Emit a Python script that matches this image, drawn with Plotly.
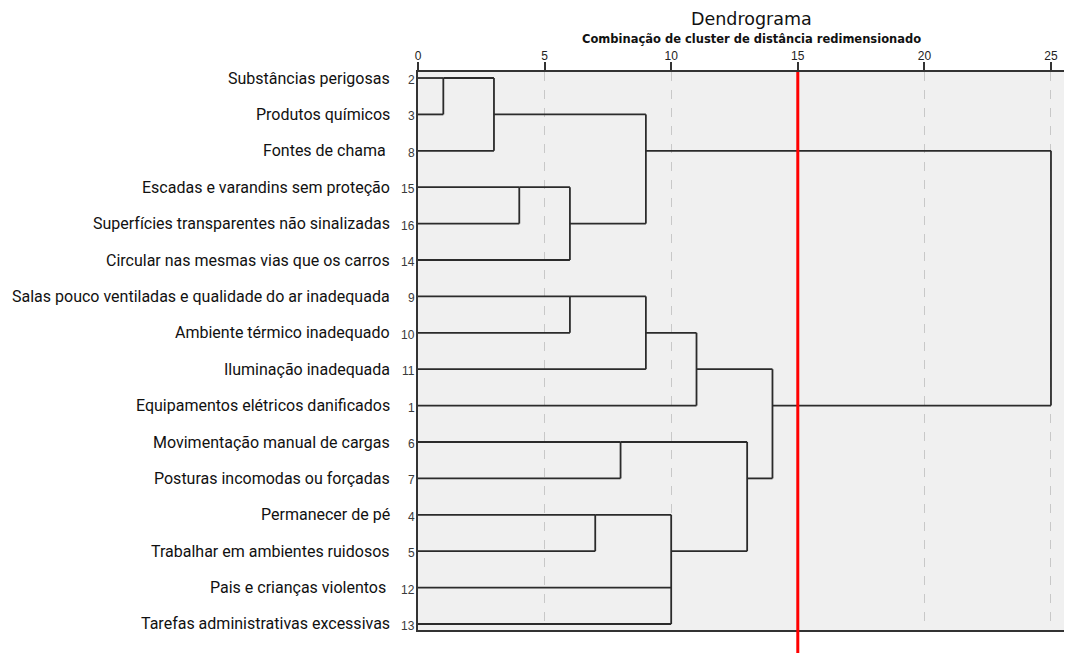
import plotly.graph_objects as go

# ---------------- data ----------------
leaf_ids = [2, 3, 8, 15, 16, 14, 9, 10, 11, 1, 6, 7, 4, 5, 12, 13]
leaf_labels = [
    "Substâncias perigosas",
    "Produtos químicos",
    "Fontes de chama ",
    "Escadas e varandins sem proteção",
    "Superfícies transparentes não sinalizadas",
    "Circular nas mesmas vias que os carros",
    "Salas pouco ventiladas e qualidade do ar inadequada",
    "Ambiente térmico inadequado",
    "Iluminação inadequada",
    "Equipamentos elétricos danificados",
    "Movimentação manual de cargas",
    "Posturas incomodas ou forçadas",
    "Permanecer de pé",
    "Trabalhar em ambientes ruidosos",
    "Pais e crianças violentos ",
    "Tarefas administrativas excessivas",
]
# merges: children ("L#" = leaf row, "M#" = earlier merge), rescaled distance, row of outgoing link
merge_children = [
    ["L0", "L1"], ["M0", "L2"], ["L3", "L4"], ["M2", "L5"], ["M1", "M3"],
    ["L6", "L7"], ["M5", "L8"], ["M6", "L9"], ["L10", "L11"], ["L12", "L13"],
    ["M9", "L14", "L15"], ["M8", "M10"], ["M7", "M11"], ["M4", "M12"],
]
merge_heights = [1, 3, 4, 6, 9, 6, 9, 11, 8, 7, 10, 13, 14, 25]
merge_rows = [0, 1, 3, 4, 2, 6, 7, 8, 10, 12, 13, 11, 9, 5.5]
x_ticks = [0, 5, 10, 15, 20, 25]
cut_distance = 15

title = "Dendrograma"
subtitle = "Combinação de cluster de distância redimensionado"

# ---------------- build link segments ----------------
def node_pos(ref):
    kind, idx = ref[0], int(ref[1:])
    if kind == "L":
        return 0, idx
    return merge_heights[idx], merge_rows[idx]

xs, ys = [], []
for children, h in zip(merge_children, merge_heights):
    rows = []
    for c in children:
        cx, cy = node_pos(c)
        rows.append(cy)
        xs += [cx, h, None]
        ys += [cy, cy, None]
    xs += [h, h, None]
    ys += [min(rows), max(rows), None]

OFF = 8  # default page body margin
W, H = 1072 - OFF, 655 - OFF
ML, MT = 418 - OFF, 72 - OFF
MR = 0
MB = H - (630 - OFF)
plot_w = W - ML - MR
plot_h = H - MT - MB

def px_to_paper_x(px):
    return (px - OFF - ML) / plot_w

def py_to_paper_y(py):
    return (H - MB - (py - OFF)) / plot_h

fig = go.Figure()
fig.add_trace(go.Scatter(
    x=xs, y=ys, mode="lines",
    line=dict(color="#2b2b2b", width=1.8),
    hoverinfo="skip", showlegend=False,
))

annotations = []
for r, (lab, lid) in enumerate(zip(leaf_labels, leaf_ids)):
    annotations.append(dict(
        x=px_to_paper_x(392), xref="paper", y=r, yref="y",
        text=lab, showarrow=False, xanchor="right", yanchor="middle",
        font=dict(family="Roboto, sans-serif", size=16, color="#111"),
    ))
    annotations.append(dict(
        x=px_to_paper_x(417), xref="paper", y=r, yref="y", yshift=-2,
        text=str(lid), showarrow=False, xanchor="right", yanchor="middle",
        font=dict(family="Liberation Sans, Arial, sans-serif", size=12, color="#3a3a3a"),
    ))
annotations.append(dict(
    x=px_to_paper_x(751), xref="paper", y=py_to_paper_y(19), yref="paper",
    text=title, showarrow=False, xanchor="center", yanchor="middle",
    font=dict(family="DejaVu Sans, sans-serif", size=17.5, color="#111"),
))
annotations.append(dict(
    x=px_to_paper_x(751), xref="paper", y=py_to_paper_y(39), yref="paper",
    text="<b>" + subtitle + "</b>", showarrow=False, xanchor="center", yanchor="middle",
    font=dict(family="DejaVu Sans, sans-serif", size=11.5, color="#111"),
))

fig.update_layout(
    width=W, height=H,
    margin=dict(l=ML, r=MR, t=MT, b=MB),
    paper_bgcolor="white", plot_bgcolor="#f0f0f0",
    annotations=annotations,
    shapes=[dict(
        type="line", xref="x", yref="paper",
        x0=cut_distance, x1=cut_distance, y0=1, y1=py_to_paper_y(653),
        line=dict(color="#ff0000", width=3), layer="above",
    )],
)
fig.update_xaxes(
    side="top", range=[0, 25.83], tickvals=x_ticks,
    ticks="outside", ticklen=8, tickcolor="#333", tickwidth=1.5,
    ticklabelstandoff=-3,
    showline=True, linecolor="#333", linewidth=1.5, mirror=True,
    showgrid=True, gridcolor="#c8c8c8", griddash="dash", gridwidth=1,
    zeroline=False,
    tickfont=dict(family="Liberation Sans, Arial, sans-serif", size=12, color="#222222"),
)
fig.update_yaxes(
    range=[15.165, -0.165], showticklabels=False, showgrid=False,
    zeroline=False, showline=True, linecolor="#333", linewidth=2, ticks="",
)

fig.write_html("out.html")
